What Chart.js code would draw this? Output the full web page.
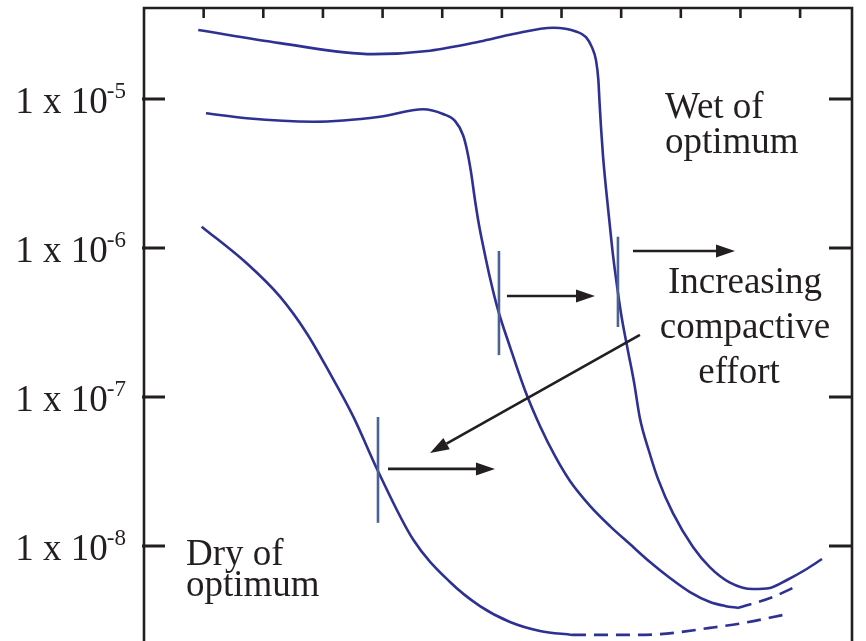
<!DOCTYPE html>
<html>
<head>
<meta charset="utf-8">
<script src="https://cdn.jsdelivr.net/npm/chart.js@4.4.1/dist/chart.umd.min.js"></script>
<style>
  html, body { margin: 0; padding: 0; background: #fff; overflow: hidden; }
  #wrap { width: 866px; height: 660px; }
</style>
</head>
<body>
<div id="wrap"><canvas id="permChart" width="866" height="660"></canvas></div>
<script>
// curve 1 (top)
const topX = [0.910, 2.280, 3.844, 4.795, 5.633, 6.191, 6.862, 7.254, 7.410, 7.511, 7.578, 7.617, 7.638, 7.662, 7.696, 7.746, 7.805, 7.863, 7.939, 8.014, 8.115, 8.215, 8.315, 8.466, 8.617, 8.868, 9.204, 9.489, 9.824, 10.210, 10.495, 10.780, 11.082, 11.367];
const topY = [2.90e-5, 2.37e-5, 2.00e-5, 2.11e-5, 2.43e-5, 2.73e-5, 3.01e-5, 2.83e-5, 2.60e-5, 2.22e-5, 1.82e-5, 1.35e-5, 9.41e-6, 6.45e-6, 4.12e-6, 2.50e-6, 1.48e-6, 8.95e-7, 5.26e-7, 3.32e-7, 2.03e-7, 1.26e-7, 7.17e-8, 4.34e-8, 2.82e-8, 1.66e-8, 9.84e-9, 7.19e-9, 5.68e-9, 5.14e-9, 5.23e-9, 5.91e-9, 6.90e-9, 8.18e-9];

// curve 2 (middle), solid part then dashed part
const midX = [1.039, 1.722, 2.838, 3.956, 4.682, 5.013, 5.214, 5.348, 5.415, 5.482, 5.549, 5.616, 5.700, 5.801, 5.935, 6.136, 6.387, 6.639, 6.890, 7.142, 7.477, 7.812, 8.147, 8.483, 8.818, 9.153, 9.489, 9.740, 9.958];
const midY = [8.02e-6, 7.42e-6, 7.04e-6, 7.60e-6, 8.53e-6, 7.93e-6, 7.12e-6, 5.73e-6, 4.55e-6, 3.24e-6, 2.10e-6, 1.43e-6, 9.69e-7, 6.29e-7, 3.84e-7, 2.17e-7, 1.11e-7, 6.39e-8, 4.02e-8, 2.73e-8, 1.86e-8, 1.36e-8, 1.03e-8, 7.81e-9, 6.10e-9, 4.91e-9, 4.21e-9, 3.96e-9, 3.84e-9];
const midDashX = [9.958, 10.545, 10.914];
const midDashY = [3.84e-9, 4.55e-9, 5.31e-9];

// curve 3 (bottom), solid part then dashed part
const lowX = [0.967, 1.722, 2.280, 2.728, 3.118, 3.509, 3.928, 4.515, 5.130, 5.633, 6.136, 6.639, 7.175];
const lowY = [1.39e-6, 7.89e-7, 4.71e-7, 2.68e-7, 1.44e-7, 7.38e-8, 3.15e-8, 1.10e-8, 5.73e-9, 3.95e-9, 3.09e-9, 2.69e-9, 2.53e-9];
const lowDashX = [7.175, 8.097, 8.651, 9.489, 10.042, 10.712];
const lowDashY = [2.53e-9, 2.53e-9, 2.56e-9, 2.82e-9, 3.04e-9, 3.44e-9];

// axis ticks
const xTicks = [1, 2, 3, 4, 5, 6, 7, 8, 9, 10, 11];
const yTicks = [1e-5, 1e-6, 1e-7, 1e-8];
const yTickExp = ['-5', '-6', '-7', '-8'];

// short vertical markers on the curves
const markX = [3.923, 5.951, 7.946];
const markTop = [7.34e-8, 9.55e-7, 1.19e-6];
const markBottom = [1.43e-8, 1.91e-7, 2.95e-7];

// arrows (start -> head)
const arrowX0 = [4.091, 6.085, 8.198, 8.315];
const arrowY0 = [3.29e-8, 4.76e-7, 9.55e-7, 2.61e-7];
const arrowX1 = [5.884, 7.561, 9.908, 4.795];
const arrowY1 = [3.29e-8, 4.76e-7, 9.55e-7, 4.21e-8];

// text notes
const noteText = ['Wet of', 'optimum', 'Increasing', 'compactive', 'effort', 'Dry of', 'optimum'];
const noteX = [8.734, 8.734, 10.076, 10.076, 9.976, 0.704, 0.704];
const noteY = [7.46e-6, 4.34e-6, 4.99e-7, 2.49e-7, 1.24e-7, 7.44e-9, 4.61e-9];
const noteAlign = ['left', 'left', 'center', 'center', 'center', 'left', 'left'];

const BLUE = '#2e3192';
const INK = '#231f20';
const SERIF = '"Liberation Serif", "Times New Roman", serif';

function pts(xs, ys) {
    return xs.map((x, i) => ({ x: x, y: ys[i] }));
}

function curve(xs, ys, dashed) {
    return {
        data: pts(xs, ys),
        borderColor: BLUE,
        borderWidth: 2.6,
        borderDash: dashed ? [14, 8] : [],
        pointRadius: 0,
        cubicInterpolationMode: 'monotone',
        fill: false
    };
}

// frame, ticks, labels, markers and arrows
const decor = {
    id: 'decor',
    afterDatasetsDraw(chart) {
        const ctx = chart.ctx;
        const a = chart.chartArea;
        const xs = chart.scales.x;
        const ys = chart.scales.y;
        ctx.save();

        // markers
        ctx.strokeStyle = '#4b6294';
        ctx.lineWidth = 2.6;
        markX.forEach((m, i) => {
            const px = xs.getPixelForValue(m);
            ctx.beginPath();
            ctx.moveTo(px, ys.getPixelForValue(markTop[i]));
            ctx.lineTo(px, ys.getPixelForValue(markBottom[i]));
            ctx.stroke();
        });

        // arrows
        ctx.strokeStyle = INK;
        ctx.fillStyle = INK;
        ctx.lineWidth = 2.6;
        arrowX0.forEach((x0, i) => {
            const sx = xs.getPixelForValue(x0), sy = ys.getPixelForValue(arrowY0[i]);
            const ex = xs.getPixelForValue(arrowX1[i]), ey = ys.getPixelForValue(arrowY1[i]);
            const ang = Math.atan2(ey - sy, ex - sx);
            const hl = 19, hw = 6.5;
            const bx = ex - hl * Math.cos(ang), by = ey - hl * Math.sin(ang);
            ctx.beginPath();
            ctx.moveTo(sx, sy);
            ctx.lineTo(bx, by);
            ctx.stroke();
            ctx.beginPath();
            ctx.moveTo(ex, ey);
            ctx.lineTo(bx + hw * Math.sin(ang), by - hw * Math.cos(ang));
            ctx.lineTo(bx - hw * Math.sin(ang), by + hw * Math.cos(ang));
            ctx.closePath();
            ctx.fill();
        });

        // frame (no bottom edge, it is cut off)
        ctx.lineWidth = 2.6;
        ctx.beginPath();
        ctx.moveTo(a.left, a.bottom + 10);
        ctx.lineTo(a.left, a.top);
        ctx.lineTo(a.right, a.top);
        ctx.lineTo(a.right, a.bottom + 10);
        ctx.stroke();

        // top ticks
        xTicks.forEach(t => {
            const px = xs.getPixelForValue(t);
            ctx.beginPath();
            ctx.moveTo(px, a.top);
            ctx.lineTo(px, a.top + 10);
            ctx.stroke();
        });

        // y ticks both sides and labels
        ctx.lineWidth = 3;
        yTicks.forEach((t, i) => {
            const py = ys.getPixelForValue(t);
            ctx.beginPath();
            ctx.moveTo(a.left - 2, py);
            ctx.lineTo(a.left + 21, py);
            ctx.moveTo(a.right - 23, py);
            ctx.lineTo(a.right, py);
            ctx.stroke();

            ctx.textBaseline = 'alphabetic';
            ctx.font = '23px ' + SERIF;
            const supW = ctx.measureText(yTickExp[i]).width;
            const supX = 126 - supW;
            ctx.textAlign = 'left';
            ctx.fillText(yTickExp[i], supX, py - 1);
            ctx.font = '37px ' + SERIF;
            ctx.textAlign = 'right';
            ctx.fillText('1 x 10', supX + 1, py + 14);
        });

        // notes
        ctx.font = '37px ' + SERIF;
        ctx.textBaseline = 'alphabetic';
        noteText.forEach((s, i) => {
            ctx.textAlign = noteAlign[i];
            ctx.fillText(s, xs.getPixelForValue(noteX[i]), ys.getPixelForValue(noteY[i]));
        });

        ctx.restore();
    }
};

new Chart(document.getElementById('permChart').getContext('2d'), {
    type: 'line',
    data: {
        datasets: [
            curve(topX, topY, false),
            curve(midX, midY, false),
            curve(midDashX, midDashY, true),
            curve(lowX, lowY, false),
            curve(lowDashX, lowDashY, true)
        ]
    },
    options: {
        responsive: false,
        devicePixelRatio: 1,
        animation: false,
        events: [],
        layout: { padding: { left: 144, top: 8, right: 14, bottom: 5 } },
        plugins: { legend: { display: false }, tooltip: { enabled: false } },
        scales: {
            x: { type: 'linear', display: false, bounds: 'data', min: 0, max: 11.87 },
            y: { type: 'logarithmic', display: false, bounds: 'data', min: 1.855e-9, max: 4.08e-5 }
        }
    },
    plugins: [decor]
});
</script>
</body>
</html>
